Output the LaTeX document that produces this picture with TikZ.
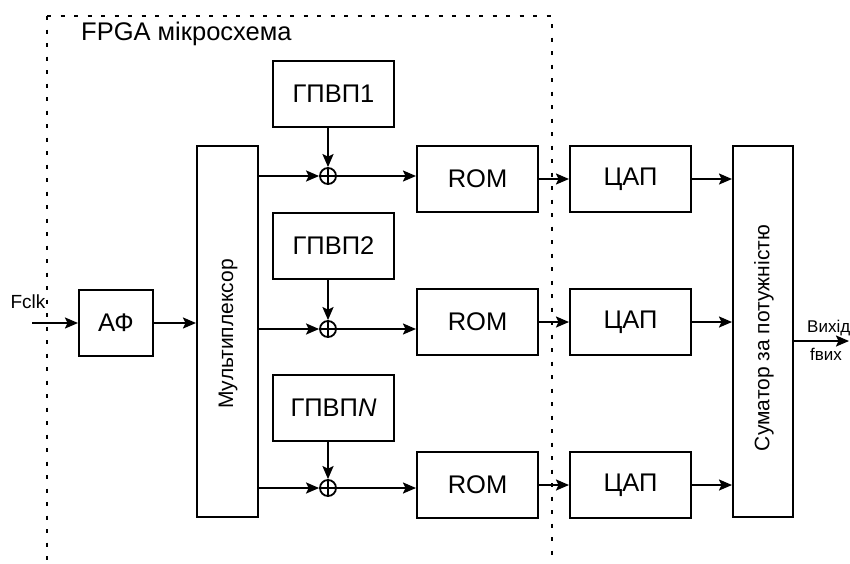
\documentclass[tikz,border=0pt]{standalone}
\usepackage{fontspec}
\setmainfont{Liberation Sans}
\usetikzlibrary{arrows.meta,calc}
\begin{document}
\begin{tikzpicture}[x=1pt,y=-1pt,
  blk/.style={draw,line width=2pt,minimum width=121pt,minimum height=66pt,inner sep=0pt,font=\fontsize{25.5}{29}\selectfont},
  tall/.style={draw,line width=2pt,minimum width=60pt,minimum height=371pt,inner sep=0pt},
  vtext/.style={rotate=90,font=\fontsize{21}{24}\selectfont,inner sep=0pt},
  lbl/.style={font=\fontsize{25.5}{29}\selectfont,inner sep=0pt},
  small/.style={font=\fontsize{17}{20}\selectfont,inner sep=0pt},
  arr/.style={line width=2pt,-{Stealth[length=13pt,width=11pt,inset=2.5pt]}},
  sumc/.style={circle,draw,line width=1.8pt,minimum size=16pt,inner sep=0pt,
    path picture={\draw[line width=1.6pt] (path picture bounding box.north) -- (path picture bounding box.south)
      (path picture bounding box.west) -- (path picture bounding box.east);}},
  fpga/.style={line width=2.8pt,dash pattern=on 4pt off 9.5pt}
]
\useasboundingbox (0,0) rectangle (850,563);
% FPGA boundary
\draw[fpga] (47,16) -- (47,560);
\draw[fpga] (47,16) -- (552,16) -- (552,560);
\node[lbl,anchor=west] (fpgat) at (81,34) {FPGA мікросхема};
% blocks
\node[blk,minimum width=74pt] (af) at (116,323) {АФ};
\node[tall,minimum width=61pt] (mux) at (227.5,331.5) {};
\node[vtext] (muxt) at (228,334) {Мультиплексор};
\node[blk] (g1) at (333.5,93.5) {ГПВП1};
\node[blk] (g2) at (333.5,245.5) {ГПВП2};
\node[blk] (g3) at (333.5,407.5) {ГПВП\textit{N}};
\node[sumc] (s1) at (328,176) {};
\node[sumc] (s2) at (328,329) {};
\node[sumc] (s3) at (328,488) {};
\node[blk] (r1) at (477.5,179) {ROM};
\node[blk] (r2) at (477.5,322) {ROM};
\node[blk] (r3) at (477.5,485) {ROM};
\node[blk] (d1) at (630.5,179) {ЦАП};
\node[blk] (d2) at (630.5,322) {ЦАП};
\node[blk] (d3) at (630.5,485) {ЦАП};
\node[tall] (sum) at (763,331.5) {};
\node[vtext] (sumt) at (764,338) {Суматор за потужністю};
% input
\coordinate (fin) at (32,323);
\node[font=\fontsize{19}{22}\selectfont,inner sep=0pt] (fclk) at (28,302) {Fclk};
\draw[arr] (fin) -- (af.west |- fin);
\draw[arr] (af.east) -- (af.east -| mux.west);
% channels
\foreach \i in {1,2,3}{
  \draw[arr] (s\i -| mux.east) -- (s\i);
  \draw[arr] (g\i.south -| s\i) -- (s\i);
  \draw[arr] (s\i) -- (s\i -| r\i.west);
  \draw[arr] (r\i) -- (d\i);
  \draw[arr] (d\i) -- (d\i -| sum.west);
}
% output
\coordinate (outp) at (849,341);
\draw[arr] (sum.east |- outp) -- (outp);
\node[small,anchor=west] (vyh) at (807,328) {Вихід};
\node[small,anchor=west] (fvyh) at (810,354) {fвих};
\end{tikzpicture}
\end{document}
